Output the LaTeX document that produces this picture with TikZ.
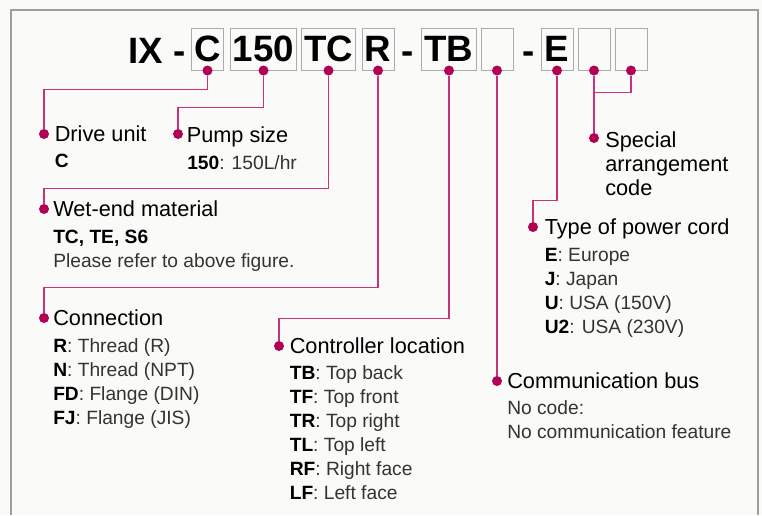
\documentclass[tikz,border=0pt]{standalone}
\usepackage{fontspec}
\setmainfont{Liberation Sans}
\usepackage{xcolor}
\usepackage{tikz}
\usetikzlibrary{positioning,calc}

\definecolor{pinkdot}{RGB}{178,0,84}
\definecolor{pinkline}{RGB}{200,50,120}
\definecolor{framegray}{RGB}{158,158,156}
\definecolor{boxgray}{RGB}{172,172,172}
\definecolor{paper}{RGB}{250,250,248}

\newcommand{\itemcode}[1]{\textcolor{black}{\textbf{#1}}}

\tikzset{
  codebox/.style={draw=boxgray, line width=0.75pt, minimum width=24pt, minimum height=31.5pt,
    inner xsep=2pt, inner ysep=0pt, font=\fontsize{27.5}{30}\selectfont\bfseries},
  codetext/.style={anchor=base west, inner sep=0pt, font=\fontsize{27.5}{30}\selectfont\bfseries},
  dot/.style={circle, fill=pinkdot, inner sep=0pt, minimum size=7.5pt},
  wire/.style={draw=pinkline, line width=1pt},
  head/.style={anchor=base west, inner sep=0pt, align=left, font=\fontsize{16.3}{18}\selectfont},
  items/.style={anchor=north west, inner sep=0pt, align=left, text=black!80, font=\fontsize{14.4}{18}\selectfont},
}

\begin{document}
\begin{tikzpicture}[x=0.75pt,y=-0.75pt]
    \useasboundingbox (0,0) rectangle (762,515);
    \fill[paper] (0,0) rectangle (762,515);
    \draw[framegray, line width=1.5pt] (11,515) -- (11,10) -- (758,10) -- (758,515); % Frame

    % Model code
    \node[codetext] (tPrefix) at (128,63) {IX -};
    \node[codebox] (bC) at (207.5,49) {C};
    \node[codebox] (b150) at (263.5,49) {150};
    \node[codebox] (bTC) at (328.5,49) {TC};
    \node[codebox] (bR) at (378,49) {R};
    \node[codetext, anchor=base] (dashA) at (408,63) {-};
    \node[codebox] (bTB) at (449,49) {TB};
    \node[codebox] (bBus) at (497,49) {};
    \node[codetext, anchor=base] (dashB) at (528.5,63) {-};
    \node[codebox] (bE) at (557,49) {E};
    \node[codebox] (bSp1) at (594,49) {};
    \node[codebox] (bSp2) at (631,49) {};

    % Dots under the code
    \foreach \b in {bC,b150,bTC,bR,bTB,bBus,bE,bSp1,bSp2}
        \node[dot] (p\b) at (\b.south) {};

    % Dots at the labels
    \node[dot] (dDrive) at (44,134) {};
    \node[dot] (dPump) at (178,134) {};
    \node[dot] (dWet) at (44,209) {};
    \node[dot] (dConn) at (44,318) {};
    \node[dot] (dCtrl) at (279,346) {};
    \node[dot] (dBus) at (497,381) {};
    \node[dot] (dCord) at (533,227) {};
    \node[dot] (dSpec) at (594,138) {};

    % Connectors
    \draw[wire] (pbC) -- ++(0,19) -| (dDrive);
    \draw[wire] (pb150) -- ++(0,37) -| (dPump);
    \draw[wire] (pbTC) -- ++(0,118) -| (dWet);
    \draw[wire] (pbR) -- ++(0,217) -| (dConn);
    \draw[wire] (pbTB) -- ++(0,248) -| (dCtrl);
    \draw[wire] (pbBus) -- (dBus);
    \draw[wire] (pbE) -- ++(0,130) -| (dCord);
    \draw[wire] (pbSp2) -- ++(0,22) -| (pbSp1);
    \draw[wire] (pbSp1) -- (dSpec);

    % Labels
    \node[head] (hDrive) at (54.5,141.6) {Drive unit};
    \node[items] (lDrive) at (54.5,153.5) {\itemcode{C}};
    \node[head] (hPump) at (186.5,142.5) {Pump size};
    \node[items] (lPump) at (187,155) {\itemcode{150}: 150L/hr};
    \node[head] (hWet) at (53,216.6) {Wet-end material};
    \node[items] (lWet) at (53,230) {\itemcode{TC, TE, S6}\\Please refer to above figure.};
    \node[head] (hConn) at (53,325.6) {Connection};
    \node[items] (lConn) at (53,338) {\itemcode{R}: Thread (R)\\\itemcode{N}: Thread (NPT)\\\itemcode{FD}: Flange (DIN)\\\itemcode{FJ}: Flange (JIS)};
    \node[head] (hCtrl) at (289.5,353.6) {Controller location};
    \node[items] (lCtrl) at (289.5,365) {\itemcode{TB}: Top back\\\itemcode{TF}: Top front\\\itemcode{TR}: Top right\\\itemcode{TL}: Top left\\\itemcode{RF}: Right face\\\itemcode{LF}: Left face};
    \node[head] (hBus) at (507,388.6) {Communication bus};
    \node[items] (lBus) at (507,400) {No code:\\No communication feature};
    \node[head] (hCord) at (544.5,234.6) {Type of power cord};
    \node[items] (lCord) at (544.5,248) {\itemcode{E}: Europe\\\itemcode{J}: Japan\\\itemcode{U}: USA (150V)\\\itemcode{U2}: USA (230V)};
    \node[head, anchor=north west] (hSpec) at (605,131.5) {Special\\arrangement\\code};
\end{tikzpicture}
\end{document}
